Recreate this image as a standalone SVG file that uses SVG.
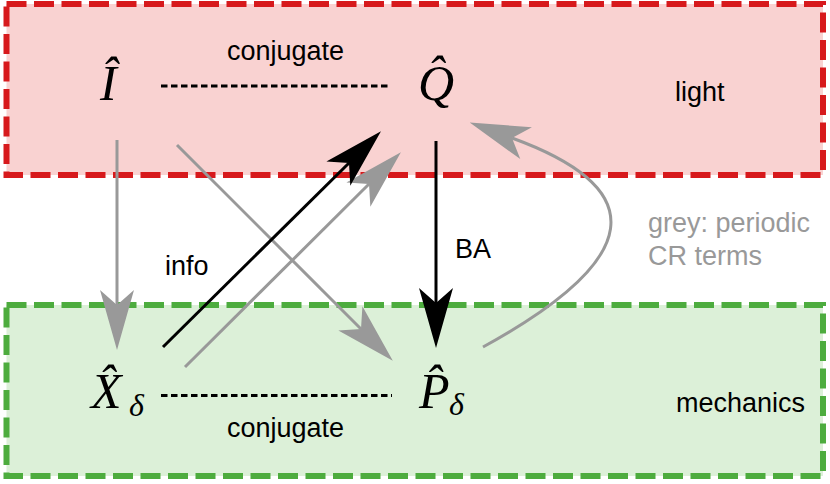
<svg xmlns="http://www.w3.org/2000/svg" width="830" height="484" viewBox="0 0 830 484">
<style>
.lbl{font-family:"Liberation Sans",Arial,sans-serif;font-size:27px;fill:#000}
.grey{fill:#999999}
.math{font-family:"Liberation Serif","Times New Roman",serif;font-style:italic;font-size:50px;fill:#000}
.sub{font-size:32px}
.conj{stroke:#000;stroke-width:3;stroke-dasharray:6.5 3.5;fill:none}
.ga{stroke:#999999;stroke-width:3;fill:none;marker-end:url(#hg)}
.ba{stroke:#000;stroke-width:3;fill:none;marker-end:url(#hb)}
</style>
<defs>
<marker id="hg" markerUnits="userSpaceOnUse" orient="auto" refX="15" refY="0" markerWidth="60" markerHeight="34" overflow="visible">
<path d="M0,-17 L60,0 L0,17 L15,0 Z" fill="#999999"/>
</marker>
<marker id="hb" markerUnits="userSpaceOnUse" orient="auto" refX="15" refY="0" markerWidth="60" markerHeight="34" overflow="visible">
<path d="M0,-17 L60,0 L0,17 L15,0 Z" fill="#000"/>
</marker>
</defs>
<g id="light-box">
<rect x="6.5" y="4" width="816.5" height="171" fill="#f9d2d1" stroke="#d7191c" stroke-width="6" stroke-dasharray="20 7.5"/>
<text class="lbl" x="675" y="101">light</text>
</g>
<g id="mech-box">
<rect x="6.5" y="305" width="816.5" height="171" fill="#dcf0d8" stroke="#4dac3e" stroke-width="6" stroke-dasharray="20 7.5"/>
<text class="lbl" x="676" y="412">mechanics</text>
</g>
<g id="node-I">
<text class="math" x="100" y="100">I&#x302;</text>
</g>
<g id="node-Q">
<text class="math" x="418" y="100">Q&#x302;</text>
</g>
<g id="node-X">
<text class="math" x="91" y="408">X&#x302;<tspan class="sub" x="129" y="416">δ</tspan></text>
</g>
<g id="node-P">
<text class="math" x="419" y="408">P&#x302;<tspan class="sub" x="449" y="415">δ</tspan></text>
</g>
<g id="connectors">
<line class="conj" x1="161" y1="86" x2="390" y2="86"/>
<line class="conj" x1="161" y1="395.5" x2="392" y2="395.5"/>
<path class="ga" d="M117,140 L117,305"/>
<path class="ga" d="M177,145 L361,329"/>
<path class="ga" d="M185,367 L369,184"/>
<path class="ga" d="M483,347 Q723.5,215 512,138"/>
<path class="ba" d="M163,347 L349,163"/>
<path class="ba" d="M436,141 L436,303"/>
</g>
<g id="labels">
<text class="lbl" x="285.5" y="60" text-anchor="middle">conjugate</text>
<text class="lbl" x="285.5" y="437" text-anchor="middle">conjugate</text>
<text class="lbl" x="165" y="275">info</text>
<text class="lbl" x="455" y="258">BA</text>
<text class="lbl grey" x="648" y="232">grey: periodic</text>
<text class="lbl grey" x="648" y="265">CR terms</text>
</g>
</svg>
